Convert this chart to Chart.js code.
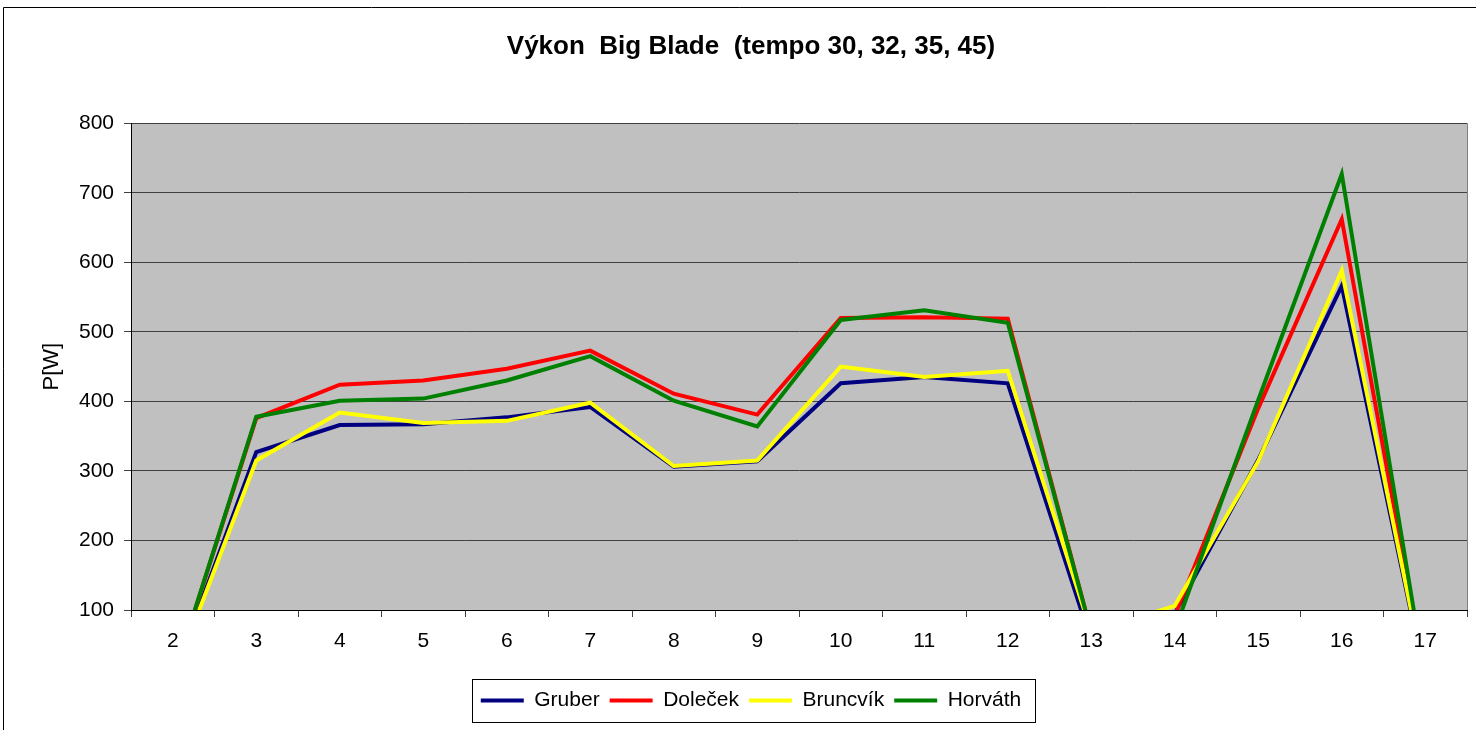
<!DOCTYPE html>
<html lang="cs">
<head>
<meta charset="UTF-8">
<title>Výkon Big Blade</title>
<script src="https://cdn.jsdelivr.net/npm/chart.js"></script>
<style>
    html, body { margin: 0; padding: 0; background: #fff; }
    #wrap { width: 1476px; height: 730px; }
</style>
</head>
<body>
<div id="wrap"><canvas id="vykon"></canvas></div>
<script>
// categories (x axis) and series
const labels = ['2', '3', '4', '5', '6', '7', '8', '9', '10', '11', '12', '13', '14', '15', '16', '17'];
const gruber   = [0, 327, 366, 367, 377, 392, 306, 314, 426, 435, 426, 55, 95, 316, 566, 0];
const dolecek  = [0, 376, 424, 430, 447, 473, 411, 381, 520, 521, 519, 68, 92, 390, 662, 0];
const bruncvik = [0, 315, 384, 369, 372, 398, 307, 315, 450, 435, 444, 68, 106, 314, 588, 0];
const horvath  = [0, 378, 401, 404, 430, 465, 401, 364, 517, 531, 513, 68, 71, 402, 727, 0];

const FONT = '"Liberation Sans", Arial, sans-serif';

// grey plot area, outer frame and the box around the legend
const frame = {
    id: 'frame',
    beforeDraw(chart) {
        const { ctx, chartArea: a } = chart;
        ctx.save();
        ctx.fillStyle = '#ffffff';
        ctx.fillRect(0, 0, chart.width, chart.height);
        ctx.fillStyle = '#c0c0c0';
        ctx.fillRect(a.left, a.top, a.right - a.left, a.bottom - a.top);
        ctx.restore();
    },
    beforeDatasetsDraw(chart) {
        const { ctx, chartArea: a } = chart;
        ctx.save();
        ctx.strokeStyle = '#808080';
        ctx.lineWidth = 1;
        ctx.beginPath();
        ctx.moveTo(a.right + 0.5, a.top);
        ctx.lineTo(a.right + 0.5, a.bottom);
        ctx.stroke();
        ctx.restore();
    },
    afterDraw(chart) {
        const ctx = chart.ctx;
        ctx.save();
        ctx.strokeStyle = '#000';
        ctx.lineWidth = 1;
        // outer chart border (left + top, the rest is cut off)
        ctx.beginPath();
        ctx.moveTo(3.5, chart.height);
        ctx.lineTo(3.5, 7.5);
        ctx.lineTo(chart.width, 7.5);
        ctx.stroke();
        // legend box
        const boxes = chart.legend.legendHitBoxes;
        if (boxes && boxes.length) {
            let l = Infinity, r = -Infinity, t = Infinity, b = -Infinity;
            boxes.forEach(h => {
                l = Math.min(l, h.left); r = Math.max(r, h.left + h.width);
                t = Math.min(t, h.top); b = Math.max(b, h.top + h.height);
            });
            ctx.strokeRect(Math.round(l - 9) + 0.5, Math.round(t - 11) + 0.5,
                Math.round(r - l + 23), Math.round(b - t + 22));
        }
        ctx.restore();
    }
};

function series(label, data, color, order) {
    return {
        label: label,
        data: data,
        borderColor: color,
        backgroundColor: color,
        borderWidth: 4,
        pointRadius: 0,
        pointHoverRadius: 0,
        tension: 0,
        clip: 0,
        order: order
    };
}

new Chart(document.getElementById('vykon'), {
    type: 'line',
    data: {
        labels: labels,
        datasets: [
            series('Gruber', gruber, '#000080', 4),
            series('Doleček', dolecek, '#ff0000', 3),
            series('Bruncvík', bruncvik, '#ffff00', 2),
            series('Horváth', horvath, '#008000', 1)
        ]
    },
    options: {
        responsive: true,
        maintainAspectRatio: false,
        animation: false,
        events: [],
        layout: { padding: { left: 35, right: 9, top: 0, bottom: 9 } },
        plugins: {
            title: {
                display: true,
                text: 'Výkon  Big Blade  (tempo 30, 32, 35, 45)',
                color: '#000',
                font: { family: FONT, size: 26, weight: 'bold' },
                padding: { top: 31, bottom: 61 }
            },
            legend: {
                position: 'bottom',
                labels: {
                    color: '#000',
                    font: { family: FONT, size: 21 },
                    usePointStyle: true,
                    pointStyle: 'line',
                    pointStyleWidth: 43,
                    padding: 10,
                    sort: (a, b) => a.datasetIndex - b.datasetIndex
                }
            },
            tooltip: { enabled: false }
        },
        scales: {
            x: {
                offset: true,
                grid: {
                    offset: true,
                    drawOnChartArea: false,
                    color: '#404040',
                    tickLength: 7
                },
                border: { color: '#000', width: 1 },
                ticks: {
                    color: '#000',
                    font: { family: FONT, size: 21 },
                    padding: 12,
                    maxRotation: 0,
                    autoSkip: false
                },
                afterFit(s) { s.height = 70; }
            },
            y: {
                min: 100,
                max: 800,
                grid: {
                    color: '#404040',
                    tickLength: 7
                },
                border: { color: '#000', width: 1 },
                ticks: {
                    stepSize: 100,
                    color: '#000',
                    font: { family: FONT, size: 21 },
                    padding: 10
                },
                title: {
                    display: true,
                    text: 'P[W]',
                    color: '#000',
                    font: { family: FONT, size: 22 },
                    padding: { top: 4, bottom: 4 }
                },
                afterFit(s) { s.width = 96; }
            }
        }
    },
    plugins: [frame]
});
</script>
</body>
</html>
